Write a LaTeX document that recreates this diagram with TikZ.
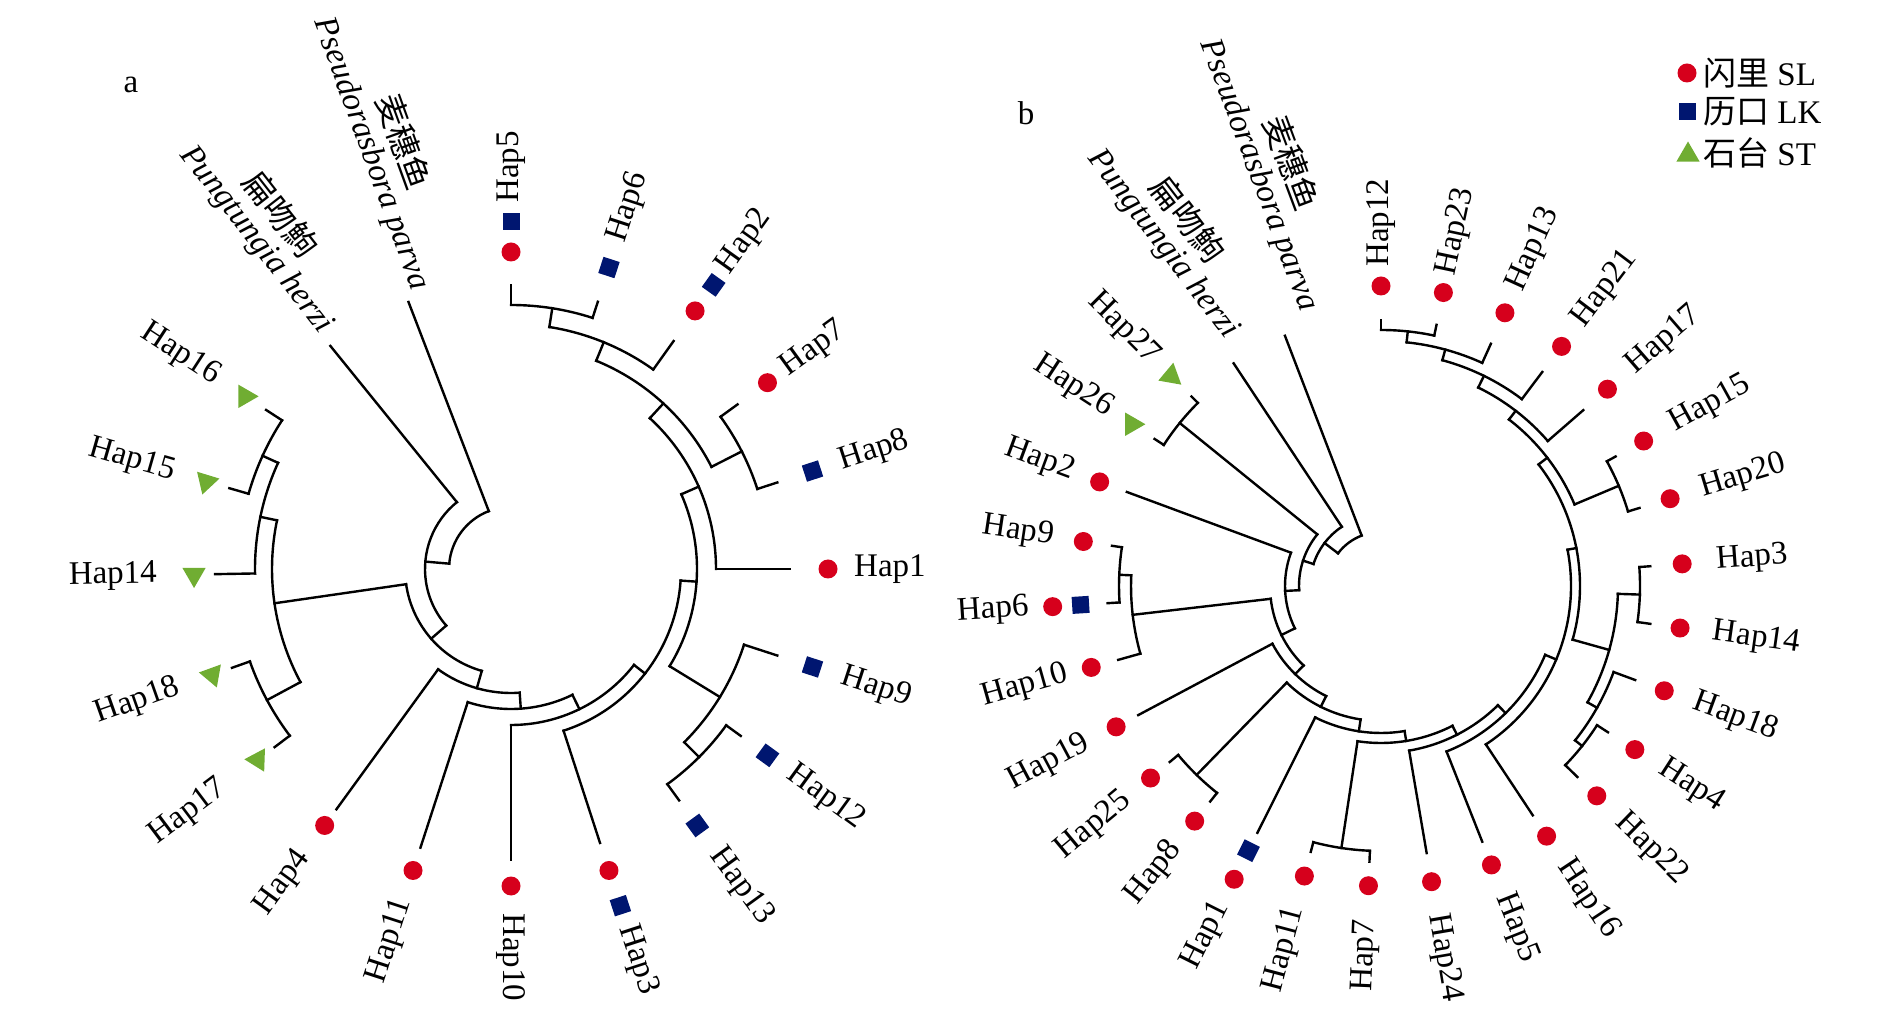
\documentclass[tikz,border=0pt]{standalone}
\usepackage{fontspec}
\setmainfont{Liberation Serif}
\newfontfamily\cjk{Noto Sans CJK SC}
\usetikzlibrary{shapes.geometric}
\definecolor{slred}{RGB}{214,0,28}
\definecolor{lkblue}{RGB}{0,22,112}
\definecolor{stgreen}{RGB}{112,173,50}
\tikzset{
    branch/.style = {line width=2.4pt, line cap=rect},
    slmark/.style = {circle, fill=slred, inner sep=0pt, minimum size=19pt},
    lkmark/.style = {rectangle, fill=lkblue, inner sep=0pt, minimum size=17pt},
    stmark/.style = {regular polygon, regular polygon sides=3, fill=stgreen, inner sep=0pt, minimum size=27pt},
    hap/.style = {inner sep=0pt, font=\fontsize{33}{38}\selectfont},
    species/.style = {inner sep=1pt, font=\fontsize{33}{38}\selectfont}
}
% clade: radius, from angle, to angle, radius of parent
\newcommand{\clade}[4]{%
  \draw[branch] (#2:#1pt) arc[start angle=#2, end angle=#3, radius=#1pt];
  \draw[branch] ({(#2+#3)/2}:#4pt) -- ({(#2+#3)/2}:#1pt);}
\newcommand{\rlab}[4]{\node[hap, rotate=#2, anchor=west] (#1) at (#2:#3pt) {#4};}
\newcommand{\llab}[4]{\node[hap, rotate=#2-180, anchor=east] (#1) at (#2:#3pt) {#4};}

\begin{document}
\begin{tikzpicture}[x=1pt,y=1pt]
\useasboundingbox (0,0) rectangle (1894,1020);

\node[hap] (tagA) at (131,935) {a};
\node[hap] (tagB) at (1026,907) {b};

% tree a
\begin{scope}[shift={(511,451)}]
\clade{264}{72}{90}{245}
\clade{245}{54.5}{81}{225}
\clade{259}{18}{36}{225}
\clade{225}{27}{67.75}{205}
\clade{205}{0}{47.375}{186}
\clade{266}{-54}{-36}{245}
\clade{245}{-45}{-18}{186}
\clade{186}{-31.5}{23.69}{170}
\clade{170}{-72}{-3.9}{156}
\clade{156}{-90}{-37.95}{140}
\clade{140}{-108}{-63.98}{124}
\clade{124}{-126}{-85.99}{106}
\clade{273}{147}{164}{256}
\clade{256}{155.5}{181}{239}
\clade{277}{199.5}{217}{239}
\clade{239}{168.25}{208.25}{106}
\clade{106}{188.25}{254.01}{86}
\clade{86}{129}{221.13}{62}
\draw[branch] (111:62pt) arc[start angle=111, end angle=175.07, radius=62pt];
\foreach \a/\ri/\ro in {90/264/284, 72/264/281, 54.5/245/280, 36/259/280, 18/259/280,
    0/205/279, -18/245/280, -36/266/284, -54/266/286, -72/170/288, -90/156/291,
    -108/140/293, -126/124/297, 217/277/296, 199.5/277/296, 181/256/296,
    164/273/293, 147/273/292, 129/86/287, 111/62/286}
  \draw[branch] (\a:\ri) -- (\a:\ro);
% markers
\foreach \n/\a in {5/90, 2/54.5, 7/36, 1/0, 3/-72, 10/-90, 11/-108, 4/-126}
  \node[slmark] (aSL\n) at (\a:317) {};
\foreach \n/\a/\r in {6/72/317, 8/18/317, 9/-18/317, 12/-36/317, 13/-54/317,
    5/90/347, 2/54.5/349, 3/-72/354}
  \node[lkmark, rotate=\a] (aLK\n) at (\a:\r) {};
\foreach \n/\a/\t in {17/217/88, 18/199.5/200, 14/181/180, 15/164/-77, 16/147/-90}
  \node[stmark, rotate=\t] (aST\n) at (\a:317) {};
% labels
\rlab{aHap5}{90}{366}{Hap5}
\rlab{aHap6}{72}{344}{Hap6}
\rlab{aHap2}{54.5}{366}{Hap2}
\rlab{aHap7}{36}{338}{Hap7}
\rlab{aHap8}{18}{346}{Hap8}
\rlab{aHap1}{0}{343}{Hap1}
\rlab{aHap9}{-18}{348}{Hap9}
\rlab{aHap12}{-36}{345}{Hap12}
\rlab{aHap13}{-54}{348}{Hap13}
\rlab{aHap3}{-72}{375}{Hap3}
\rlab{aHap10}{-90}{344}{Hap10}
\llab{aHap11}{-108}{347}{Hap11}
\llab{aHap4}{-126}{352}{Hap4}
\llab{aHap17}{217}{360}{Hap17}
\llab{aHap18}{199.5}{352}{Hap18}
\llab{aHap14}{181}{354}{Hap14}
\llab{aHap15}{164}{350}{Hap15}
\llab{aHap16}{147}{350}{Hap16}
\node[species, rotate=-70, anchor=east] (aPseudo) at (-91,279) {\itshape Pseudorasbora parva};
\node[species, rotate=-70, yshift=3pt, anchor=south] (aPseudoCn) at (aPseudo.north) {\cjk 麦穗鱼};
\node[species, rotate=-52, anchor=east] (aPung) at (-184,238) {\itshape Pungtungia herzi};
\node[species, rotate=-52, yshift=3pt, xshift=-5pt, anchor=south] (aPungCn) at (aPung.north) {\cjk 扁吻鮈};
\end{scope}

% tree b
\begin{scope}[shift={(1381,434)}]
\clade{256}{78}{90}{245}
\clade{245}{65.6}{84}{234}
\clade{234}{53}{74.8}{221}
\clade{221}{41}{63.9}{210}
\clade{258}{16.8}{28.9}{210}
\clade{210}{22.85}{52.45}{199}
\clade{259}{-8}{4.2}{237}
\clade{257}{-44.2}{-32.8}{248}
\clade{248}{-38.5}{-20.3}{237}
\clade{237}{-29.4}{-1.9}{199}
\clade{199}{-15.65}{37.65}{190}
\clade{190}{-56.5}{11}{178}
\clade{178}{-68.4}{-22.75}{167}
\clade{167}{-80.3}{-45.575}{157}
\clade{265}{-104.8}{-92.4}{157}
\clade{157}{-98.6}{-62.94}{147}
\clade{147}{-116.6}{-80.77}{135}
\clade{264}{-140.2}{-128.4}{135}
\clade{135}{-134.3}{-98.69}{123}
\clade{123}{-152}{-116.5}{111}
\clade{262}{171.5}{183.6}{250}
\clade{250}{177.55}{195.7}{111}
\clade{111}{186.63}{225.75}{96}
\clade{96}{159.7}{206.19}{82}
\clade{259}{135}{147}{82}
\clade{82}{141}{182.95}{71}
\clade{71}{123.5}{161.98}{54}
\draw[branch] (111:54pt) arc[start angle=111, end angle=142.74, radius=54pt];
\foreach \a/\ri/\ro in {90/256/266, 78/256/267, 65.6/245/266, 53/234/268, 41/221/268,
    28.9/258/268, 16.8/258/270, 4.2/259/270, -8/259/272, -20.3/248/271,
    -32.8/257/270, -44.2/257/274, -56.5/190/275, -68.4/178/275, -80.3/167/271,
    -92.4/265/276, -104.8/265/275, -116.6/147/276, -128.4/264/275, -140.2/264/275,
    -152/123/275, 195.7/250/273, 183.6/262/274, 171.5/262/272, 159.7/96/271,
    147/259/270, 135/259/268, 123.5/71/267, 111/54/268}
  \draw[branch] (\a:\ri) -- (\a:\ro);
% markers
\foreach \n/\a/\r in {12/90/300, 23/78/300, 13/65.6/300, 21/53/300, 17/41/300,
    15/28.9/300, 20/16.8/302, 3/4.2/302, 14/-8/302, 18/-20.3/302, 4/-32.8/302,
    22/-44.2/301, 16/-56.5/300, 5/-68.4/300, 24/-80.3/300, 7/-92.4/300,
    11/-104.8/300, 1/-116.6/328, 8/-128.4/300, 25/-140.2/300, 19/-152/300,
    10/-164.3/301, 6/183.6/329, 9/171.5/301, 2/159.7/300}
  \node[slmark] (bSL\n) at (\a:\r) {};
\foreach \n/\a/\r in {6/183.6/301, 1/-116.6/296}
  \node[lkmark, rotate=\a] (bLK\n) at (\a:\r) {};
\foreach \n/\a/\t in {26/147/-90, 27/135/-10}
  \node[stmark, rotate=\t] (bST\n) at (\a:297) {};
% labels
\rlab{bHap12}{90}{319}{Hap12}
\rlab{bHap23}{78}{318}{Hap23}
\rlab{bHap13}{65.6}{325}{Hap13}
\rlab{bHap21}{53}{328}{Hap21}
\rlab{bHap17}{41}{330}{Hap17}
\rlab{bHap15}{28.9}{332}{Hap15}
\rlab{bHap20}{16.8}{334}{Hap20}
\rlab{bHap3}{4.2}{336}{Hap3}
\rlab{bHap14}{-8}{335}{Hap14}
\rlab{bHap18}{-20.3}{334}{Hap18}
\rlab{bHap4}{-32.8}{333}{Hap4}
\rlab{bHap22}{-44.2}{333}{Hap22}
\rlab{bHap16}{-56.5}{331}{Hap16}
\rlab{bHap5}{-68.4}{332}{Hap5}
\rlab{bHap24}{-80.3}{333}{Hap24}
\llab{bHap7}{-92.4}{334}{Hap7}
\llab{bHap11}{-104.8}{333}{Hap11}
\llab{bHap1}{-116.6}{355}{Hap1}
\llab{bHap8}{-128.4}{330}{Hap8}
\llab{bHap25}{-140.2}{330}{Hap25}
\llab{bHap19}{-152}{332}{Hap19}
\llab{bHap10}{-164.3}{326}{Hap10}
\llab{bHap6}{183.6}{353}{Hap6}
\llab{bHap9}{171.5}{331}{Hap9}
\llab{bHap2}{159.7}{328}{Hap2}
\llab{bHap26}{147}{323}{Hap26}
\llab{bHap27}{135}{320}{Hap27}
\node[species, rotate=-69.5, anchor=east] (bPseudo) at (-72,275) {\itshape Pseudorasbora parva};
\node[species, rotate=-69.5, yshift=3pt, anchor=south] (bPseudoCn) at (bPseudo.north) {\cjk 麦穗鱼};
\node[species, rotate=-52.5, anchor=east] (bPung) at (-148,250) {\itshape Pungtungia herzi};
\node[species, rotate=-52.5, yshift=3pt, xshift=-5pt, anchor=south] (bPungCn) at (bPung.north) {\cjk 扁吻鮈};
\end{scope}

% legend
\node[slmark] (legSL) at (1687,947) {};
\node[hap, anchor=west] (legSLtext) at (1703,947) {{\cjk 闪里} SL};
\node[lkmark] (legLK) at (1687,908) {};
\node[hap, anchor=west] (legLKtext) at (1703,908) {{\cjk 历口} LK};
\node[stmark] (legST) at (1688,865) {};
\node[hap, anchor=west] (legSTtext) at (1703,867) {{\cjk 石台} ST};
\end{tikzpicture}
\end{document}
